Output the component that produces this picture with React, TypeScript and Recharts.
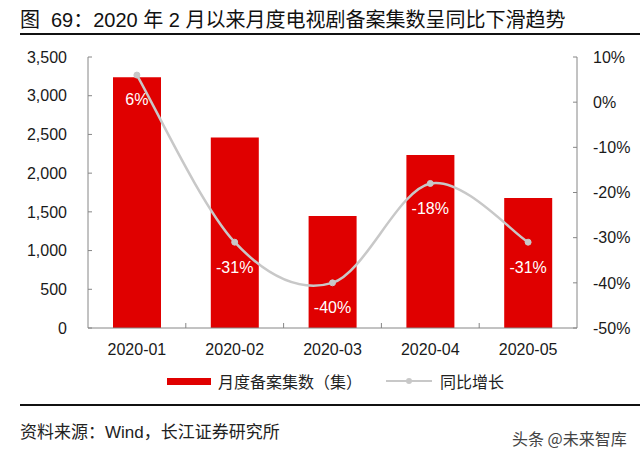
import React from "react";
import { ComposedChart, Bar, Line, XAxis, YAxis, LabelList } from "recharts";

const months = ["2020-01", "2020-02", "2020-03", "2020-04", "2020-05"];
const episodes = [3240, 2460, 1445, 2235, 1680];
const yoy = [6, -31, -40, -18, -31];
const leftTicks = [0, 500, 1000, 1500, 2000, 2500, 3000, 3500];
const rightTicks = [-50, -40, -30, -20, -10, 0, 10];

const titleHead = "图";
const title = "69：2020 年 2 月以来月度电视剧备案集数呈同比下滑趋势";
const source = "资料来源：Wind，长江证券研究所";
const watermark = "头条 @未来智库";
const barName = "月度备案集数（集）";
const lineName = "同比增长";

const data = months.map((m, i) => ({ month: m, episodes: episodes[i], yoy: yoy[i] }));

const RED = "#E00000";
const GREY_LINE = "#C8C8C8";
const AXIS = "#868686";
const FONT = '"Liberation Sans", Arial, "Noto Sans CJK SC", sans-serif';

function excelSmooth(context: any) {
  let pts: [number, number][] = [];
  return {
    areaStart() {},
    areaEnd() {},
    lineStart() {
      pts = [];
    },
    lineEnd() {
      const n = pts.length;
      if (!n) return;
      context.moveTo(pts[0][0], pts[0][1]);
      for (let i = 0; i < n - 1; i++) {
        const p0 = pts[Math.max(i - 1, 0)];
        const p1 = pts[i];
        const p2 = pts[i + 1];
        const p3 = pts[Math.min(i + 2, n - 1)];
        context.bezierCurveTo(
          p1[0] + (p2[0] - p0[0]) / 6,
          p1[1] + (p2[1] - p0[1]) / 6,
          p2[0] - (p3[0] - p1[0]) / 6,
          p2[1] - (p3[1] - p1[1]) / 6,
          p2[0],
          p2[1]
        );
      }
    },
    point(x: number, y: number) {
      pts.push([+x, +y]);
    },
  };
}

const XTick = (props: any) => {
  const { x, y, payload, index } = props;
  const half = payload && payload.offset ? payload.offset : 49;
  return (
    <g>
      {index > 0 && (
        <line x1={x - half} x2={x - half} y1={y} y2={y - 5} stroke={AXIS} strokeWidth={1} />
      )}
      <text x={x} y={y + 27} textAnchor="middle" fontSize={16} fill="#1a1a1a" fontFamily={FONT}>
        {payload.value}
      </text>
    </g>
  );
};

export default function App() {
  return (
    <div
      style={{
        position: "absolute",
        left: 0,
        top: 0,
        width: 640,
        height: 461,
        background: "#fff",
        fontFamily: FONT,
        overflow: "hidden",
      }}
    >
      <div
        style={{
          position: "absolute",
          left: 20,
          top: 8,
          fontSize: 20,
          lineHeight: "24px",
          color: "#111",
          whiteSpace: "nowrap",
        }}
      >
        <span>{titleHead}</span>
        <span style={{ marginLeft: 11 }}>{title}</span>
      </div>
      <div style={{ position: "absolute", left: 20, top: 33, width: 620, height: 2, background: "#111" }} />

      <div style={{ position: "absolute", left: 0, top: 0 }}>
        <ComposedChart
          width={640}
          height={370}
          data={data}
          margin={{ top: 57, right: 0, bottom: 0, left: 0 }}
        >
          <XAxis
            dataKey="month"
            height={42}
            tickSize={0}
            tickMargin={0}
            tick={<XTick />}
            axisLine={{ stroke: AXIS, strokeWidth: 1 }}
            tickLine={false}
          />
          <YAxis
            yAxisId="left"
            orientation="left"
            width={88}
            domain={[0, 3500]}
            ticks={leftTicks}
            interval={0}
            tickFormatter={(v: number) => v.toLocaleString("en-US")}
            tick={{ fontSize: 16, fill: "#1a1a1a", fontFamily: FONT }}
            tickSize={-4}
            tickMargin={25}
            axisLine={{ stroke: AXIS, strokeWidth: 1 }}
            tickLine={{ stroke: AXIS, strokeWidth: 1 }}
          />
          <YAxis
            yAxisId="right"
            orientation="right"
            width={63}
            domain={[-50, 10]}
            ticks={rightTicks}
            interval={0}
            tickFormatter={(v: number) => `${v}%`}
            tick={{ fontSize: 16, fill: "#1a1a1a", fontFamily: FONT, textAnchor: "start" }}
            tickSize={-4}
            tickMargin={20}
            axisLine={{ stroke: AXIS, strokeWidth: 1 }}
            tickLine={{ stroke: AXIS, strokeWidth: 1 }}
          />
          <Bar yAxisId="left" dataKey="episodes" fill={RED} barSize={48} isAnimationActive={false} />
          <Line
            yAxisId="right"
            dataKey="yoy"
            type={excelSmooth as any}
            stroke={GREY_LINE}
            strokeWidth={2.5}
            dot={{ r: 3, fill: GREY_LINE, stroke: GREY_LINE, strokeWidth: 1 }}
            activeDot={false}
            isAnimationActive={false}
          >
            <LabelList
              dataKey="yoy"
              position="bottom"
              offset={19}
              formatter={(v: any) => `${v}%`}
              fill="#ffffff"
              fontSize={16}
              fontFamily={FONT}
            />
          </Line>
        </ComposedChart>
      </div>

      {/* legend */}
      <div style={{ position: "absolute", left: 167, top: 378, width: 44, height: 7, background: RED }} />
      <div
        style={{
          position: "absolute",
          left: 218,
          top: 371,
          fontSize: 16,
          lineHeight: "20px",
          color: "#222",
          whiteSpace: "nowrap",
          fontFamily: '"Noto Sans CJK SC", sans-serif',
        }}
      >
        {barName}
      </div>
      <div style={{ position: "absolute", left: 386, top: 380, width: 46, height: 2, background: GREY_LINE }} />
      <div
        style={{
          position: "absolute",
          left: 406,
          top: 378,
          width: 6,
          height: 6,
          borderRadius: 3,
          background: GREY_LINE,
        }}
      />
      <div
        style={{
          position: "absolute",
          left: 440,
          top: 371,
          fontSize: 16,
          lineHeight: "20px",
          color: "#222",
          whiteSpace: "nowrap",
          fontFamily: '"Noto Sans CJK SC", sans-serif',
        }}
      >
        {lineName}
      </div>

      <div style={{ position: "absolute", left: 20, top: 404, width: 620, height: 2, background: "#111" }} />
      <div
        style={{
          position: "absolute",
          left: 20,
          top: 422,
          fontSize: 17,
          lineHeight: "22px",
          color: "#222",
          whiteSpace: "nowrap",
        }}
      >
        {source}
      </div>
      <div
        style={{
          position: "absolute",
          left: 512,
          top: 428,
          fontSize: 16,
          lineHeight: "20px",
          color: "#444",
          whiteSpace: "nowrap",
          fontFamily: '"Noto Sans CJK SC", sans-serif',
        }}
      >
        {watermark}
      </div>
    </div>
  );
}
